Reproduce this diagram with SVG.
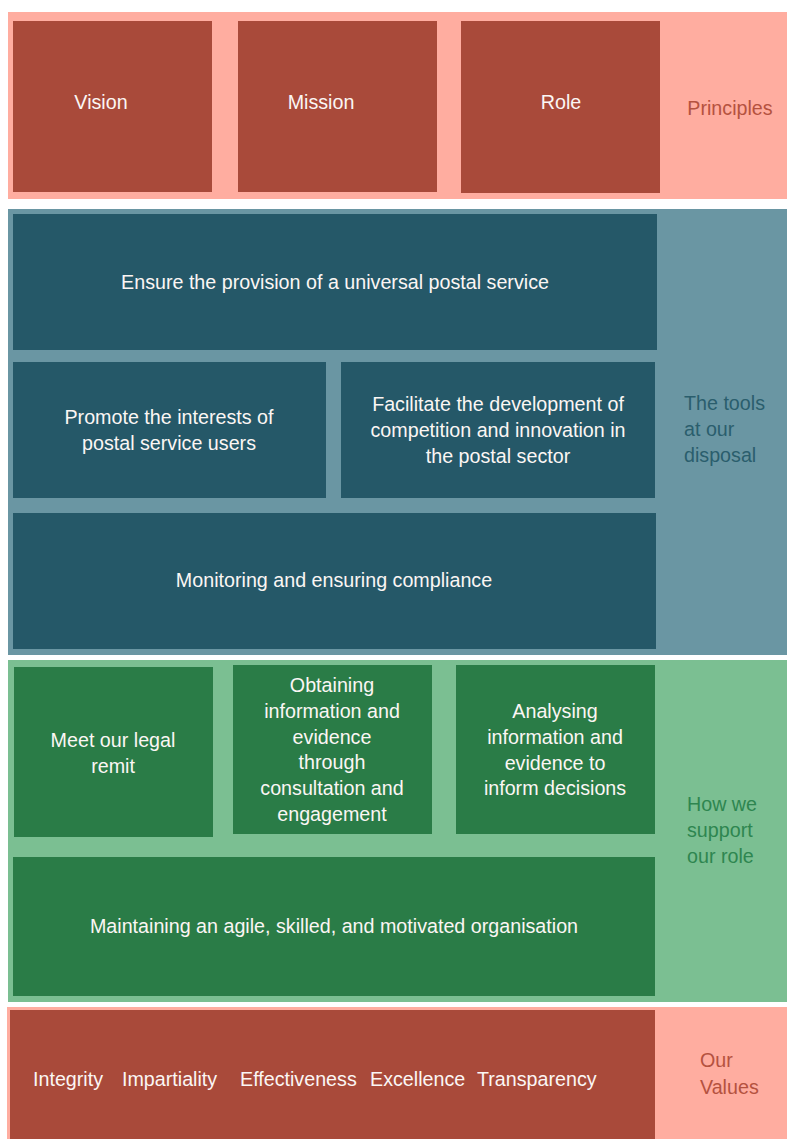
<svg xmlns="http://www.w3.org/2000/svg" width="787" height="1139" viewBox="0 0 787 1139">
<style>
text{font-family:"Liberation Sans",Arial,sans-serif;font-size:19.7px}
.w{fill:#FBF6F4;text-anchor:middle}
.red{fill:#A94A3A}
.pink{fill:#FFADA0}
.dteal{fill:#255868}
.lteal{fill:#6A96A3}
.dgreen{fill:#2A7C47}
.lgreen{fill:#7BBF92}
.lr{fill:#B5523F}
.lt{fill:#2A5E6D}
.lg{fill:#2E8650}
</style>
<rect width="787" height="1139" fill="#FFFFFF"/>
<g id="sections">
<rect x="8" y="12" width="779" height="187" class="pink"/>
<rect x="8" y="209" width="779" height="446" class="lteal"/>
<rect x="8" y="660" width="779" height="342" class="lgreen"/>
<rect x="7" y="1007" width="780" height="132" class="pink"/>
</g>
<g id="vision"><rect x="13" y="21" width="199" height="171" class="red"/><text class="w" x="101" y="109">Vision</text></g>
<g id="mission"><rect x="238" y="21" width="199" height="171" class="red"/><text class="w" x="321" y="109">Mission</text></g>
<g id="role"><rect x="461" y="21" width="199" height="172" class="red"/><text class="w" x="561" y="109">Role</text></g>
<g id="principles"><text class="lr" x="730" y="115" text-anchor="middle">Principles</text></g>
<g id="ensure"><rect x="13" y="214" width="644" height="136" class="dteal"/><text class="w" x="335" y="289">Ensure the provision of a universal postal service</text></g>
<g id="promote"><rect x="13" y="362" width="313" height="136" class="dteal"/><text class="w" x="169" y="424">Promote the interests of</text><text class="w" x="169" y="450">postal service users</text></g>
<g id="facilitate"><rect x="341" y="362" width="314" height="136" class="dteal"/><text class="w" x="498" y="411">Facilitate the development of</text><text class="w" x="498" y="437">competition and innovation in</text><text class="w" x="498" y="463">the postal sector</text></g>
<g id="tools"><text class="lt" x="684" y="410">The tools</text><text class="lt" x="684" y="436">at our</text><text class="lt" x="684" y="462">disposal</text></g>
<g id="monitoring"><rect x="13" y="513" width="643" height="136" class="dteal"/><text class="w" x="334" y="587">Monitoring and ensuring compliance</text></g>
<g id="meet"><rect x="14" y="667" width="199" height="170" class="dgreen"/><text class="w" x="113" y="747">Meet our legal</text><text class="w" x="113" y="773">remit</text></g>
<g id="obtaining"><rect x="233" y="665" width="199" height="169" class="dgreen"/><text class="w" x="332" y="692">Obtaining</text><text class="w" x="332" y="718">information and</text><text class="w" x="332" y="744">evidence</text><text class="w" x="332" y="769">through</text><text class="w" x="332" y="795">consultation and</text><text class="w" x="332" y="821">engagement</text></g>
<g id="analysing"><rect x="456" y="665" width="199" height="169" class="dgreen"/><text class="w" x="555" y="718">Analysing</text><text class="w" x="555" y="744">information and</text><text class="w" x="555" y="770">evidence to</text><text class="w" x="555" y="795">inform decisions</text></g>
<g id="support"><text class="lg" x="687" y="811">How we</text><text class="lg" x="687" y="837">support</text><text class="lg" x="687" y="863">our role</text></g>
<g id="maintaining"><rect x="13" y="857" width="642" height="139" class="dgreen"/><text class="w" x="334" y="933">Maintaining an agile, skilled, and motivated organisation</text></g>
<g id="values"><rect x="10" y="1010" width="645" height="129" class="red"/>
<text class="w" x="33" y="1086" style="text-anchor:start">Integrity</text>
<text class="w" x="122" y="1086" style="text-anchor:start">Impartiality</text>
<text class="w" x="240" y="1086" style="text-anchor:start">Effectiveness</text>
<text class="w" x="370" y="1086" style="text-anchor:start">Excellence</text>
<text class="w" x="477" y="1086" style="text-anchor:start">Transparency</text></g>
<g id="ourvalues"><text class="lr" x="700" y="1067">Our</text><text class="lr" x="700" y="1094">Values</text></g>
<g id="connectors"></g>
</svg>
